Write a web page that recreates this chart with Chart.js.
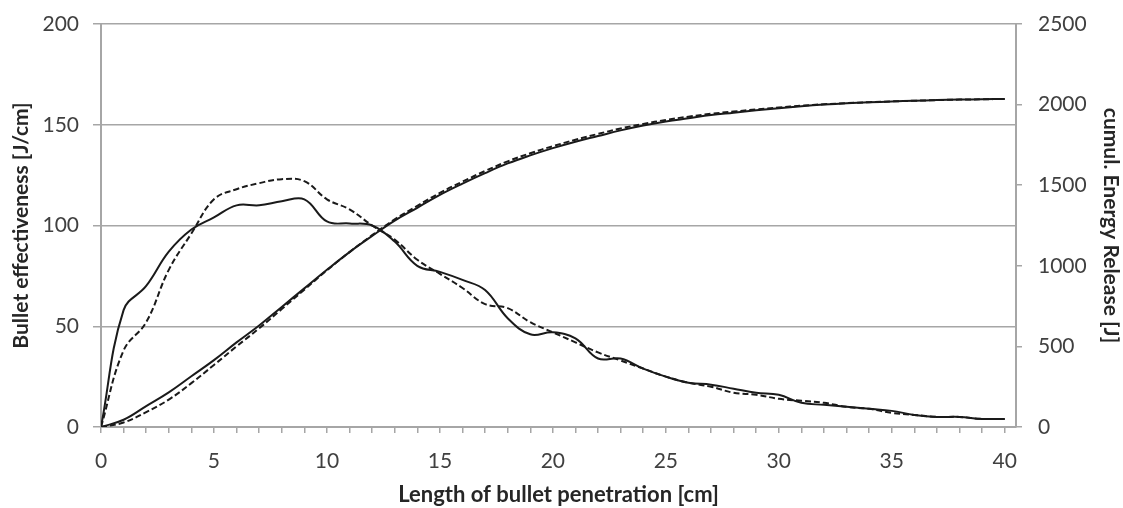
<!DOCTYPE html>
<html>
<head>
<meta charset="utf-8">
<script src="https://cdn.jsdelivr.net/npm/chart.js@4/dist/chart.umd.min.js"></script>
<style>
  html, body { margin: 0; padding: 0; background: #fff; }
  #wrap { width: 1123px; height: 508px; }
</style>
</head>
<body>
<div id="wrap"><canvas id="chartOne" width="1123" height="508"></canvas></div>
<script>
// penetration depth [cm]
const depth = [0, 1, 2, 3, 4, 5, 6, 7, 8, 9, 10, 11, 12, 13, 14, 15, 16, 17, 18, 19, 20,
  21, 22, 23, 24, 25, 26, 27, 28, 29, 30, 31, 32, 33, 34, 35, 36, 37, 38, 39, 40];

// bullet effectiveness [J/cm]
const effSolid = [0, 58, 70, 87, 98, 104, 110, 110, 112, 113, 102, 101, 100, 92, 80, 77, 73, 68, 54, 46, 47,
  44, 34, 34, 29, 25, 22, 21, 19, 17, 16, 12, 11, 10, 9, 8, 6, 5, 5, 4, 4];
const effDashed = [0, 38, 52, 78, 96, 113, 118, 121, 123, 122, 113, 108, 100, 93, 83, 76, 69, 61, 59, 52, 47,
  42, 37, 33, 29, 25, 22, 20, 17, 16, 14, 13, 12, 10, 9, 7, 6, 5, 5, 4, 4];

// cumulative energy release [J]
const cumSolid = [0, 45, 130, 215, 315, 415, 525, 630, 745, 860, 975, 1085, 1185, 1280, 1360, 1440, 1510, 1575, 1635, 1685, 1730,
  1770, 1805, 1840, 1870, 1895, 1915, 1935, 1950, 1965, 1978, 1990, 2000, 2008, 2014, 2019, 2024, 2028, 2031, 2033, 2035];
const cumDashed = [0, 28, 92, 170, 272, 385, 500, 612, 732, 852, 972, 1085, 1190, 1288, 1372, 1452, 1522, 1588, 1648, 1698, 1742,
  1782, 1818, 1852, 1880, 1905, 1925, 1943, 1957, 1970, 1982, 1993, 2002, 2009, 2015, 2020, 2024, 2028, 2031, 2033, 2035];

const xTicks = [0, 5, 10, 15, 20, 25, 30, 35, 40];

const pts = (ys) => depth.map((x, i) => ({ x: x, y: ys[i] }));

const grey = "#a6a6a6";
const ink = "#1a1a1a";
const font = "Lato";

const line = (label, ys, axis, dashed) => ({
  label: label,
  data: pts(ys),
  yAxisID: axis,
  borderColor: ink,
  borderWidth: 2,
  borderDash: dashed ? [6, 3] : [],
  pointRadius: 0,
  tension: 0.4,
  fill: false,
});

// fixed side widths, no extra label padding at top/bottom
const fixWidth = (w) => (s) => {
  s.width = w;
  s.paddingTop = 0;
  s.paddingBottom = 0;
};

new Chart(document.getElementById("chartOne"), {
  type: "line",
  data: {
    datasets: [
      line("effectiveness", effSolid, "y", false),
      line("effectiveness (dashed)", effDashed, "y", true),
      line("cumul. energy", cumSolid, "y2", false),
      line("cumul. energy (dashed)", cumDashed, "y2", true),
    ],
  },
  options: {
    responsive: false,
    animation: false,
    layout: { padding: { top: 24, left: 0, right: 0, bottom: 0 } },
    plugins: { legend: { display: false }, tooltip: { enabled: false } },
    scales: {
      x: {
        type: "linear",
        min: 0,
        max: 40.5,
        afterBuildTicks: (s) => { s.ticks = depth.map((v) => ({ value: v })); },
        afterFit: (s) => { s.height = 81; },
        grid: { drawOnChartArea: false, color: grey, tickLength: 6, lineWidth: 1.5 },
        border: { color: grey, width: 2 },
        ticks: {
          autoSkip: false,
          maxRotation: 0,
          padding: 16,
          color: "#404040",
          font: { family: font, size: 21 },
          callback: (v) => (xTicks.includes(v) ? String(v) : ""),
        },
        title: {
          display: true,
          text: "Length of bullet penetration [cm]",
          color: "#262626",
          font: { family: font, size: 22, weight: "bold" },
          padding: { top: 0, bottom: 0 },
        },
      },
      y: {
        position: "left",
        min: 0,
        max: 200,
        afterFit: fixWidth(101),
        grid: { color: grey, lineWidth: 1.5, tickLength: 8 },
        border: { color: grey, width: 2 },
        ticks: { stepSize: 50, padding: 14, color: "#404040", font: { family: font, size: 21 } },
        title: {
          display: true,
          text: "Bullet effectiveness [J/cm]",
          color: "#262626",
          font: { family: font, size: 21, weight: "bold" },
          padding: { top: 9, bottom: 0 },
        },
      },
      y2: {
        position: "right",
        min: 0,
        max: 2500,
        afterFit: fixWidth(107),
        grid: { drawOnChartArea: false, color: grey, lineWidth: 1.5, tickLength: 6 },
        border: { color: grey, width: 2 },
        ticks: {
          stepSize: 500,
          padding: 16,
          color: "#404040",
          font: { family: font, size: 21 },
          callback: (v) => String(v),
        },
        title: {
          display: true,
          text: "cumul. Energy Release [J]",
          color: "#262626",
          font: { family: font, size: 21, weight: "bold" },
          padding: { top: 0, bottom: 0 },
        },
      },
    },
  },
});
</script>
</body>
</html>
